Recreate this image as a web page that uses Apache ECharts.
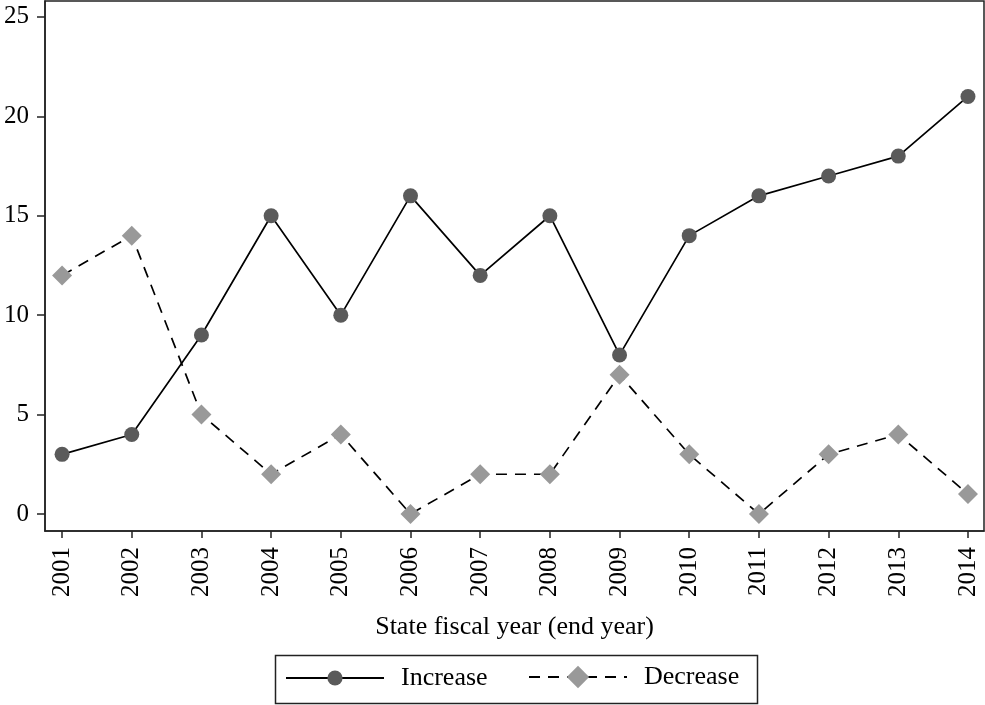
<!DOCTYPE html>
<html>
<head>
<meta charset="utf-8">
<script src="https://cdn.jsdelivr.net/npm/echarts@6/dist/echarts.min.js"></script>
<style>
  html, body { margin: 0; padding: 0; background: #fff; }
  #chart { width: 985px; height: 705px; }
</style>
</head>
<body>
<div id="chart"></div>
<script>
// Fiscal years (end year) and counts of increases / decreases
const years = [2001, 2002, 2003, 2004, 2005, 2006, 2007, 2008, 2009, 2010, 2011, 2012, 2013, 2014];
const increase = [3, 4, 9, 15, 10, 16, 12, 15, 8, 14, 16, 17, 18, 21];
const decrease = [12, 14, 5, 2, 4, 0, 2, 2, 7, 3, 0, 3, 4, 1];
const yTicks = [0, 5, 10, 15, 20, 25];

const serif = '"Liberation Serif", "DejaVu Serif", serif';
const chart = echarts.init(document.getElementById('chart'));

// Shared look of the two legend entries (each has its own icon height)
const legendBase = {
  padding: 0,
  itemWidth: 98,
  textStyle: { fontFamily: serif, fontSize: 26, color: '#000', padding: [0, 0, 0, 12] }
};

chart.setOption({
  animation: false,
  backgroundColor: '#fff',
  grid: {
    left: 45, right: 1, top: 1, bottom: 174,
    show: true, borderColor: '#222', borderWidth: 1.5, backgroundColor: 'transparent'
  },
  xAxis: {
    type: 'value',
    min: 2000.755, max: 2014.23,
    name: 'State fiscal year (end year)',
    nameLocation: 'middle',
    nameGap: 83,
    nameTextStyle: { fontFamily: serif, fontSize: 26, color: '#000' },
    axisLine: { show: true, onZero: false, lineStyle: { color: '#222', width: 1.5 } },
    axisTick: { show: true, length: 7, lineStyle: { color: '#222', width: 1.5 }, customValues: years },
    axisLabel: {
      customValues: years, rotate: 90, margin: 16,
      fontFamily: serif, fontSize: 25, color: '#000',
      formatter: v => String(Math.round(v))
    },
    splitLine: { show: false }
  },
  yAxis: {
    type: 'value',
    min: -0.855, max: 25.8,
    axisLine: { show: true, onZero: false, lineStyle: { color: '#222', width: 1.5 } },
    axisTick: { show: true, length: 8, lineStyle: { color: '#222', width: 1.5 }, customValues: yTicks },
    axisLabel: {
      customValues: yTicks, margin: 16,
      fontFamily: serif, fontSize: 25, color: '#000'
    },
    splitLine: { show: false }
  },
  legend: [
    Object.assign({}, legendBase, { left: 285, top: 665, itemHeight: 19, data: ['Increase'] }),
    Object.assign({}, legendBase, { left: 528, top: 664, itemHeight: 28, data: ['Decrease'] })
  ],
  graphic: [
    {
      type: 'rect',
      left: 273, top: 653,
      shape: { width: 482, height: 48 },
      style: { fill: 'none', stroke: '#222', lineWidth: 1.5 },
      silent: true
    }
  ],
  series: [
    {
      name: 'Increase',
      type: 'line',
      data: years.map((y, i) => [y, increase[i]]),
      symbol: 'circle',
      symbolSize: 15,
      itemStyle: { color: '#5a5a5a' },
      lineStyle: { color: '#000', width: 1.7, type: 'solid' },
      z: 3
    },
    {
      name: 'Decrease',
      type: 'line',
      data: years.map((y, i) => [y, decrease[i]]),
      symbol: 'diamond',
      symbolSize: [20, 20],
      itemStyle: { color: '#999999' },
      lineStyle: { color: '#000', width: 1.7, type: [11, 8] },
      z: 2
    }
  ]
});
</script>
</body>
</html>
